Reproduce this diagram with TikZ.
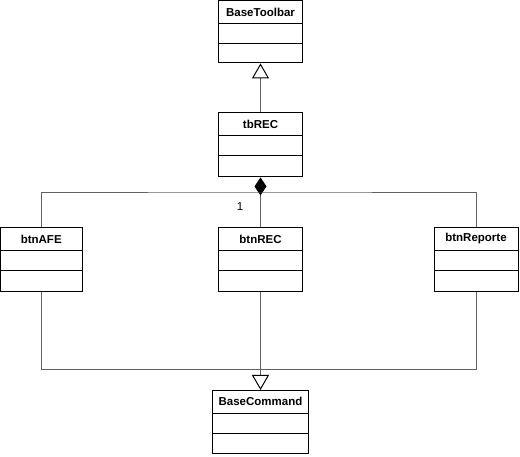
\documentclass[tikz,border=0pt]{standalone}
\usepackage{fontspec}
\setmainfont{Liberation Sans}
\usetikzlibrary{arrows.meta}
\begin{document}
\begin{tikzpicture}[x=1pt,y=-1pt,
 cls/.style={draw=black, line width=0.9pt, minimum width=84pt, minimum height=64pt, inner sep=0pt, anchor=north,
   path picture={
     \draw[line width=0.9pt] ([yshift=-23pt]path picture bounding box.north west) -- ([yshift=-23pt]path picture bounding box.north east);
     \draw[line width=0.9pt] ([yshift=-43pt]path picture bounding box.north west) -- ([yshift=-43pt]path picture bounding box.north east);}},
 ttl/.style={font=\bfseries\fontsize{11.5}{13}\selectfont, inner sep=0pt},
 conn/.style={draw=black!62, line width=1pt},
 gen/.style={conn, -{Triangle[open, length=15pt, width=17pt, fill=white, color=black]}},
 comp/.style={conn, -{Diamond[length=18pt, width=12pt, fill=black, color=black]}}]
\useasboundingbox (0,0) rectangle (520,457);
% classes
\node[cls, minimum height=62pt] (bt) at (260.5,0.5) {};
\node[ttl] (bt-t) at ([yshift=-11.5pt]bt.north) {BaseToolbar};
\node[cls] (tb) at (260.5,112.5) {};
\node[ttl] (tb-t) at ([yshift=-11.5pt]tb.north) {tbREC};
\node[cls, minimum width=81.5pt] (afe) at (41.25,227.5) {};
\node[ttl] (afe-t) at ([yshift=-11.5pt]afe.north) {btnAFE};
\node[cls] (rec) at (260.5,227.5) {};
\node[ttl] (rec-t) at ([yshift=-11.5pt]rec.north) {btnREC};
\node[cls] (rep) at (476,227.5) {};
\node[ttl] (rep-t) at ([yshift=-11.5pt]rep.north) {btnReporte};
\node[cls, minimum width=96pt, minimum height=63pt] (bc) at (260.5,390) {};
\node[ttl] (bc-t) at ([yshift=-11.5pt]bc.north) {BaseCommand};
% junctions
\coordinate (j1) at (260.5,193);
\coordinate (j2) at (260.5,369.5);
% connectors
\draw[gen] (tb.north) -- (bt.south);
\draw[comp] (rec.north) -- (tb.south);
\draw[conn] (afe.north) |- (j1) -| (rep.north);
\node[font=\fontsize{11.5}{13}\selectfont] (m1) at (240,206.5) {1};
\draw[conn] (afe.south) |- (j2) -| (rep.south);
\draw[gen] (rec.south) -- (bc.north);
\end{tikzpicture}
\end{document}
